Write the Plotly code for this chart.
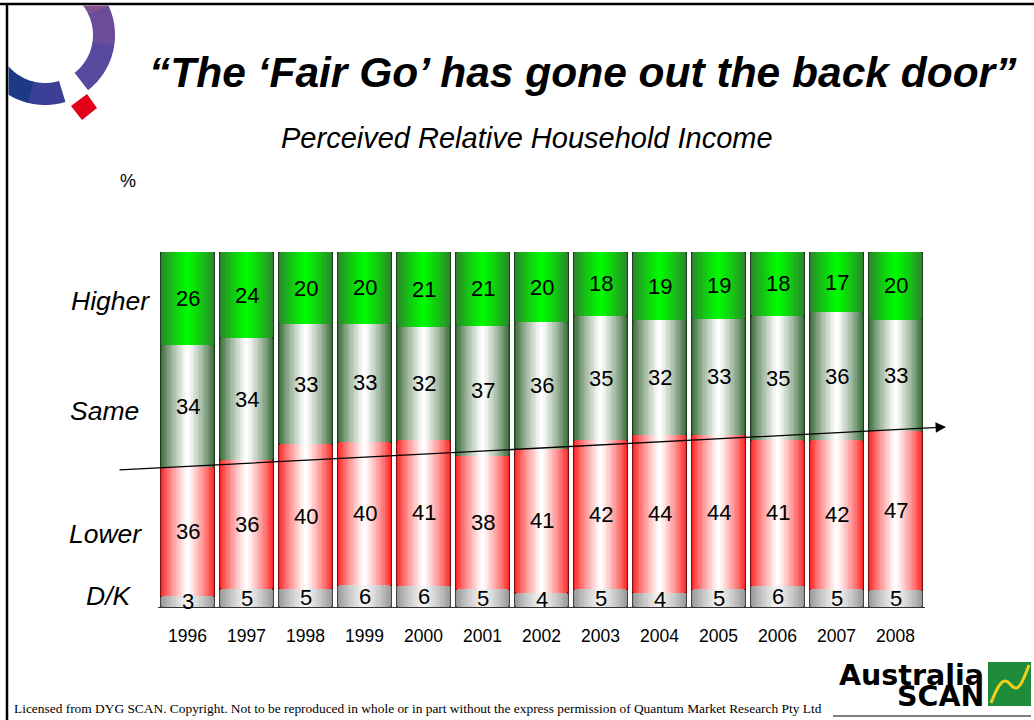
import numpy as np
import plotly.graph_objects as go

# ---------------- data ----------------
years = [1996, 1997, 1998, 1999, 2000, 2001, 2002, 2003, 2004, 2005, 2006, 2007, 2008]
year_labels = [str(y) for y in years]
dk = [3, 5, 5, 6, 6, 5, 4, 5, 4, 5, 6, 5, 5]
lower = [36, 36, 40, 40, 41, 38, 41, 42, 44, 44, 41, 42, 47]
same = [34, 34, 33, 33, 32, 37, 36, 35, 32, 33, 35, 36, 33]
higher = [26, 24, 20, 20, 21, 21, 20, 18, 19, 19, 18, 17, 20]
series_names = ["D/K", "Lower", "Same", "Higher"]
series_values = [dk, lower, same, higher]

title_text = "<b><i>“The ‘Fair Go’ has gone out the back door”</i></b>"
subtitle_text = "<i>Perceived Relative Household Income</i>"
footer_text = ("Licensed from DYG SCAN. Copyright. Not to be reproduced in whole or in part "
               "without the express permission of Quantum Market Research Pty Ltd")

# ---------------- style ----------------
edge_cols = {"D/K": (150, 150, 150), "Lower": (255, 35, 35),
             "Same": (55, 105, 55), "Higher": (45, 130, 45)}
center_cols = {"D/K": (245, 245, 245), "Lower": (255, 255, 255),
               "Same": (255, 255, 255), "Higher": (0, 250, 0)}
line_cols = {"D/K": "#444444", "Lower": "#7a1010", "Same": "#1d3f1d", "Higher": "#1d3f1d"}

W, H = 1034, 720
X0, X1, Y0, Y1 = 158, 925, 607, 252  # plot area in pixels
BAR_W = 0.91
LAYERS = 16
FONT = "Liberation Sans, Arial, sans-serif"


def px(X):
    return (X - X0) / (X1 - X0)


def py(Y):
    return (Y0 - Y) / (Y0 - Y1)


def mix(a, b, t):
    return "rgb(%d,%d,%d)" % tuple(round(a[k] + (b[k] - a[k]) * t) for k in range(3))


fig = go.Figure()

# gradient bars: several overlaid stacked layers of decreasing width
for li in range(LAYERS):
    t = (li / (LAYERS - 1)) ** 0.8
    xa = "x" if li == 0 else "x%d" % (li + 1)
    for name, vals in zip(series_names, series_values):
        fig.add_trace(go.Bar(
            x=years, y=vals, name=name, xaxis=xa, yaxis="y",
            width=BAR_W * (1 - li / LAYERS),
            marker=dict(color=mix(edge_cols[name], center_cols[name], t),
                        line=dict(color=line_cols[name], width=1.2 if li == 0 else 0)),
            showlegend=False, hoverinfo="skip" if li else "x+y+name",
        ))

layout_axes = {}
for li in range(1, LAYERS):
    layout_axes["xaxis%d" % (li + 1)] = dict(overlaying="x", range=[1995.5, 2008.5],
                                              visible=False, fixedrange=True)

annotations = []
# value labels centred in segments
totals = [sum(v[i] for v in series_values) for i in range(len(years))]
for i, yr in enumerate(years):
    cum = 0
    for vals in series_values:
        mid = (cum + vals[i] / 2) / totals[i] * 100
        cum += vals[i]
        annotations.append(dict(x=yr, y=mid, xref="x", yref="y", text=str(vals[i]),
                                xanchor="center", yanchor="middle",
                                showarrow=False, font=dict(size=22, color="black")))


def ptext(X, Y, text, size, xanchor="center", family=None):
    f = dict(size=size, color="black")
    if family:
        f["family"] = family
    annotations.append(dict(x=px(X), y=py(Y), xref="paper", yref="paper", text=text,
                            xanchor=xanchor, yanchor="middle", showarrow=False, font=f))


# category labels on the left
for name, X, Y in zip(["Higher", "Same", "Lower", "D/K"], [110, 104, 105, 109],
                      [301, 411, 534, 596]):
    ptext(X, Y, "<i>%s</i>" % name, 26.5)

ptext(583, 72, title_text, 42.5)
ptext(527, 138, subtitle_text, 29)
ptext(128, 181, "%", 18)
ptext(12, 708, footer_text, 13.4, xanchor="left",
      family="Liberation Serif, Times New Roman, serif")
ptext(986, 675, "<b>Australia</b>", 28.5, xanchor="right", family="DejaVu Sans, sans-serif")
ptext(986, 696, "<b>SCAN</b>", 28.5, xanchor="right", family="DejaVu Sans, sans-serif")

# trend arrow
annotations.append(dict(x=px(946), y=py(427), xref="paper", yref="paper",
                        ax=118 - 946, ay=470 - 427, axref="pixel", ayref="pixel",
                        text="", showarrow=True, arrowhead=2, arrowsize=1.6,
                        arrowwidth=1.3, arrowcolor="black"))

# ---------------- shapes ----------------
shapes = []


def pline(x0, y0, x1, y1, color="black", width=1.0):
    shapes.append(dict(type="line", xref="paper", yref="paper",
                       x0=px(x0), y0=py(y0), x1=px(x1), y1=py(y1),
                       line=dict(color=color, width=width)))


def poly(points, color):
    d = "M " + " L ".join("%.5f,%.5f" % (px(a), py(b)) for a, b in points) + " Z"
    shapes.append(dict(type="path", xref="paper", yref="paper", path=d,
                       fillcolor=color, line=dict(width=0), layer="above"))


# frame
pline(0, 4, W, 4, width=2.5)
pline(7, 4, 7, H, width=2.5)

# Q logo ring segments
cx, cy, Ro, Ri = 45, 35, 70, 48


def ring(a0, a1, color):
    ang = np.radians(np.linspace(a0, a1, 40))
    outer = [(cx + Ro * np.cos(a), cy + Ro * np.sin(a)) for a in ang]
    inner = [(cx + Ri * np.cos(a), cy + Ri * np.sin(a)) for a in ang[::-1]]
    pts = [(max(a, 8.5), max(b, 5.5)) for a, b in outer + inner]
    poly(pts, color)


ring(-80, -25, "#86528f")
ring(-26, 10, "#6a4c98")
ring(9, 52, "#574a9e")
ring(73, 105, "#3c3f96")
ring(104, 150, "#1d3a84")
poly([(87, 94), (97, 108), (82, 120), (71, 106)], "#e2001a")

# AustraliaSCAN emblem
shapes.append(dict(type="rect", xref="paper", yref="paper",
                   x0=px(988), y0=py(706), x1=px(1031), y1=py(662),
                   fillcolor="#1e8c3a", line=dict(width=0)))
shapes.append(dict(type="path", xref="paper", yref="paper",
                   path="M %f,%f C %f,%f %f,%f %f,%f C %f,%f %f,%f %f,%f" % (
                       px(991), py(703), px(998), py(685), px(1003), py(676), px(1010), py(684),
                       px(1018), py(694), px(1022), py(684), px(1029), py(665)),
                   line=dict(color="#f2cf1d", width=3)))
pline(833, 716, 1031, 716, width=1)

fig.update_layout(
    width=W, height=H,
    margin=dict(l=X0, r=W - X1, t=Y1, b=H - Y0, pad=0),
    paper_bgcolor="white", plot_bgcolor="white",
    barmode="stack", barnorm="percent", bargap=0.09,
    font=dict(family=FONT, color="black"),
    xaxis=dict(range=[1995.5, 2008.5], tickvals=years, ticktext=year_labels,
               showgrid=False, zeroline=False, showline=True, linecolor="#333333",
               linewidth=1.2, ticks="", ticklabelstandoff=13,
               tickfont=dict(size=17.5, color="black"), fixedrange=True),
    yaxis=dict(range=[0, 100], visible=False, fixedrange=True),
    annotations=annotations, shapes=shapes,
    **layout_axes,
)

fig.write_html("out.html", post_script="document.body.style.margin='0px';",
               config={"displayModeBar": False})
